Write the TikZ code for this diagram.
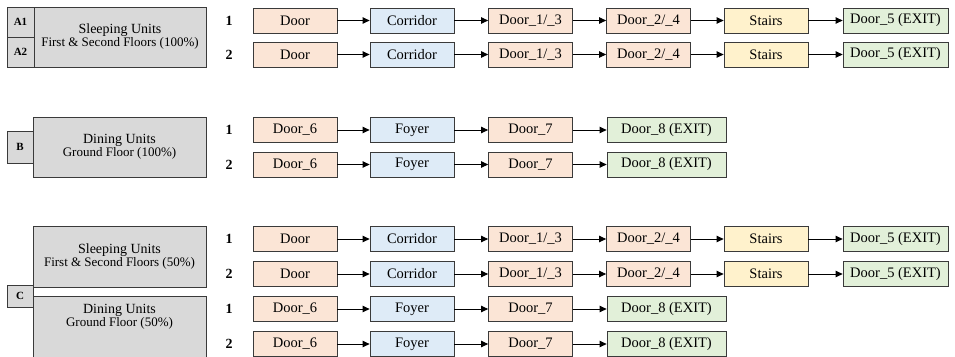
\documentclass[tikz,border=0pt]{standalone}
\usepackage{fontspec}
\setmainfont{Liberation Serif}
\usepackage{tikz}
\usetikzlibrary{arrows.meta, shadows}

\definecolor{doorfill}{HTML}{FBE5D6}
\definecolor{hallfill}{HTML}{DEEBF7}
\definecolor{stairfill}{HTML}{FFF2CC}
\definecolor{exitfill}{HTML}{E2F0D9}
\definecolor{unitfill}{HTML}{D9D9D9}
\definecolor{edgegray}{HTML}{3A3A3A}

\begin{document}
\begin{tikzpicture}[
    x=1pt, y=-1pt,
    >={Triangle[length=7pt, width=6.5pt]},
    box/.style={rectangle, draw=edgegray, line width=0.8pt, inner sep=0pt,
      minimum width=84pt, minimum height=25pt,
      font=\rmfamily\fontsize{14.5}{16}\selectfont,
      drop shadow={shadow xshift=0.9pt, shadow yshift=-0.9pt,
        fill=blue!30!black!25, opacity=.45}},
    door/.style={box, fill=doorfill},
    hall/.style={box, fill=hallfill},
    stair/.style={box, fill=stairfill},
    exit/.style={box, fill=exitfill},
    unit/.style={rectangle, draw=edgegray, line width=0.8pt, fill=unitfill,
      inner sep=0pt, align=center,
      drop shadow={shadow xshift=0.9pt, shadow yshift=-0.9pt,
        fill=blue!30!black!25, opacity=.45}},
    tag/.style={unit, font=\rmfamily\bfseries\fontsize{11}{12}\selectfont},
    run/.style={font=\rmfamily\bfseries\fontsize{14}{15}\selectfont},
    flow/.style={->, line width=1pt},
  ]
  \useasboundingbox (0,0) rectangle (955,356);

  %% --- Unit blocks on the left ---
  % A: sleeping units, both floors
  \node[unit, minimum width=172pt, minimum height=60pt] (A) at (120,37)
    {\fontsize{14}{19}\selectfont Sleeping Units\\
     \fontsize{13}{19}\selectfont First \& Second Floors (100\%)};
  \node[tag, minimum width=27pt, minimum height=30pt] (A1) at (20.5,22) {A1};
  \node[tag, minimum width=27pt, minimum height=30pt] (A2) at (20.5,52) {A2};
  % B: dining units
  \node[tag, minimum width=26pt, minimum height=32pt] (B) at (20,147) {B};
  \node[unit, minimum width=173pt, minimum height=60pt] (Bu) at (119.5,147)
    {\fontsize{14}{19}\selectfont Dining Units\\
     \fontsize{13}{19}\selectfont Ground Floor (100\%)};
  % C: half sleeping, half dining
  \node[tag, minimum width=26pt, minimum height=22pt] (C) at (20,296) {C};
  \node[unit, minimum width=173pt, minimum height=61pt] (Cs) at (119.5,256.5)
    {\fontsize{14}{19}\selectfont Sleeping Units\\
     \fontsize{13}{19}\selectfont First \& Second Floors (50\%)};
  \node[unit, minimum width=173pt, minimum height=64pt] (Cd) at (119.5,328) {};
  \node[align=center, inner sep=0pt] (Cdt) at (119.5,316.5)
    {\fontsize{14}{19}\selectfont Dining Units\\
     \fontsize{13}{19}\selectfont Ground Floor (50\%)};

  %% --- Sleeping unit routes ---
  \foreach \r/\n/\y in {a1/1/20.5, a2/2/54.5, c1/1/239, c2/2/274} {
    \node[run] (\r-no) at (229,\y) {\n};
    \node[door] (\r-d) at (295,\y) {Door};
    \node[hall] (\r-h) at (412,\y) {Corridor};
    \node[door] (\r-d13) at (530.5,\y) {Door\_1/\_3};
    \node[door] (\r-d24) at (648.5,\y) {Door\_2/\_4};
    \node[stair] (\r-s) at (766,\y) {Stairs};
    \node[exit, minimum width=105pt] (\r-x) at (895.5,\y) {Door\_5 (EXIT)};
    \draw[flow] (\r-d) -- (\r-h);
    \draw[flow] (\r-h) -- (\r-d13);
    \draw[flow] (\r-d13) -- (\r-d24);
    \draw[flow] (\r-d24) -- (\r-s);
    \draw[flow] (\r-s) -- (\r-x);
  }

  %% --- Dining unit routes ---
  \foreach \r/\n/\y in {b1/1/130, b2/2/164.5, c3/1/309, c4/2/344} {
    \node[run] (\r-no) at (229,\y) {\n};
    \node[door] (\r-d6) at (295,\y) {Door\_6};
    \node[hall] (\r-f) at (412,\y) {Foyer};
    \node[door] (\r-d7) at (530.5,\y) {Door\_7};
    \node[exit, minimum width=119pt] (\r-x) at (666.5,\y) {Door\_8 (EXIT)};
    \draw[flow] (\r-d6) -- (\r-f);
    \draw[flow] (\r-f) -- (\r-d7);
    \draw[flow] (\r-d7) -- (\r-x);
  }
\end{tikzpicture}
\end{document}
